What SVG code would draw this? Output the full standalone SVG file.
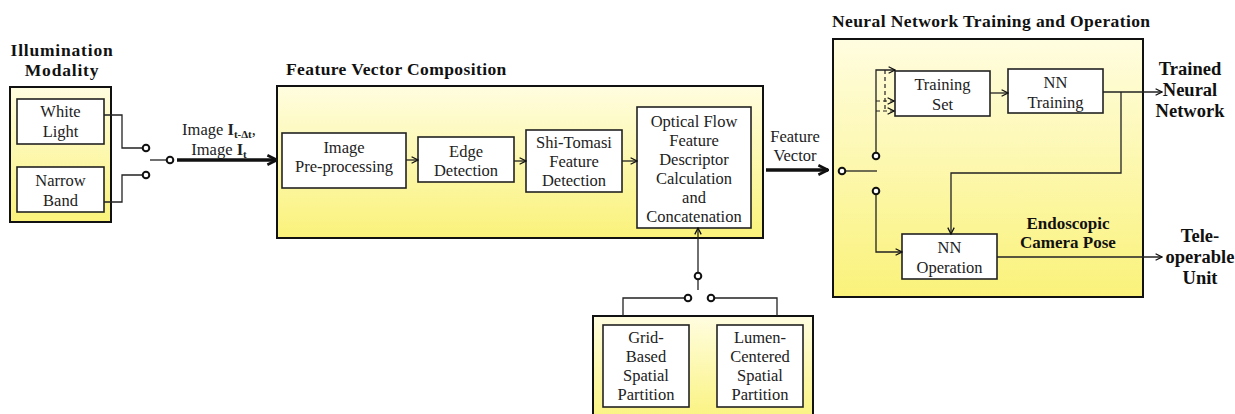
<svg xmlns="http://www.w3.org/2000/svg" width="1235" height="414" viewBox="0 0 1235 414">
  <defs>
    <linearGradient id="panelFill" x1="0" y1="0" x2="0" y2="1">
      <stop offset="0" stop-color="#fffde0"/>
      <stop offset="1" stop-color="#faf27a"/>
    </linearGradient>
    <marker id="openHead" viewBox="0 0 10 10" refX="9" refY="5" markerWidth="8" markerHeight="8" markerUnits="userSpaceOnUse" orient="auto">
      <path d="M1,1 L9,5 L1,9" fill="none" stroke="#111" stroke-width="1.6"/>
    </marker>
    <marker id="boldHead" viewBox="0 0 10 10" refX="9" refY="5" markerWidth="12" markerHeight="12" markerUnits="userSpaceOnUse" orient="auto">
      <path d="M1,1 L9,5 L1,9" fill="none" stroke="#111" stroke-width="2.2"/>
    </marker>
  </defs>
  <style>
    .panel { fill: url(#panelFill); stroke: #111; stroke-width: 2; }
    .box { fill: #fff; stroke: #222; stroke-width: 1.6; }
    .lbl { font-family: "Liberation Serif", "DejaVu Serif", serif; font-size: 16.5px; fill: #222; text-anchor: middle; }
    .ttl { font-family: "Liberation Serif", "DejaVu Serif", serif; font-size: 17.5px; font-weight: bold; letter-spacing: 0.4px; fill: #111; }
    .bold { font-family: "Liberation Serif", "DejaVu Serif", serif; font-size: 18.5px; font-weight: bold; fill: #111; text-anchor: middle; }
    .wire { fill: none; stroke: #222; stroke-width: 1.3; }
    .arr { fill: none; stroke: #222; stroke-width: 1.3; marker-end: url(#openHead); }
    .dash { fill: none; stroke: #222; stroke-width: 1.2; stroke-dasharray: 4 3; }
    .thick { fill: none; stroke: #111; stroke-width: 3.5; marker-end: url(#boldHead); }
    .pin { fill: #fff; stroke: #111; stroke-width: 2; }
  </style>

  <!-- Illumination modality -->
  <g id="illumination">
    <text class="ttl" x="62" y="56" style="text-anchor:middle; letter-spacing:0.8px">Illumination</text>
    <text class="ttl" x="62" y="76" style="text-anchor:middle; letter-spacing:0.8px">Modality</text>
    <rect class="panel" x="10" y="87" width="101" height="135"/>
  </g>
  <g id="white-light">
    <rect class="box" x="17" y="99" width="87" height="45"/>
    <text class="lbl" x="60.5" y="117">White</text>
    <text class="lbl" x="60.5" y="137">Light</text>
  </g>
  <g id="narrow-band">
    <rect class="box" x="17" y="167" width="87" height="45"/>
    <text class="lbl" x="60.5" y="186">Narrow</text>
    <text class="lbl" x="60.5" y="206">Band</text>
  </g>

  <!-- Feature vector composition -->
  <g id="feature-vector-composition">
    <text class="ttl" x="286" y="75">Feature Vector Composition</text>
    <rect class="panel" x="277" y="86" width="486" height="152"/>
  </g>
  <g id="preprocessing">
    <rect class="box" x="282" y="133" width="124" height="55"/>
    <text class="lbl" x="344" y="153">Image</text>
    <text class="lbl" x="344" y="172">Pre-processing</text>
  </g>
  <g id="edge-detection">
    <rect class="box" x="418" y="137" width="96" height="45"/>
    <text class="lbl" x="466" y="157">Edge</text>
    <text class="lbl" x="466" y="176">Detection</text>
  </g>
  <g id="shi-tomasi">
    <rect class="box" x="526" y="130" width="96" height="62"/>
    <text class="lbl" x="574" y="148">Shi-Tomasi</text>
    <text class="lbl" x="574" y="167">Feature</text>
    <text class="lbl" x="574" y="186">Detection</text>
  </g>
  <g id="optical-flow">
    <rect class="box" x="637" y="107" width="114" height="121"/>
    <text class="lbl" x="694" y="127">Optical Flow</text>
    <text class="lbl" x="694" y="146">Feature</text>
    <text class="lbl" x="694" y="165">Descriptor</text>
    <text class="lbl" x="694" y="184">Calculation</text>
    <text class="lbl" x="694" y="203">and</text>
    <text class="lbl" x="694" y="222">Concatenation</text>
  </g>

  <!-- Spatial partition options -->
  <g id="spatial-partition">
    <rect class="panel" x="593" y="316" width="220" height="110"/>
  </g>
  <g id="grid-based">
    <rect class="box" x="603" y="325" width="86" height="82"/>
    <text class="lbl" x="646" y="343">Grid-</text>
    <text class="lbl" x="646" y="362">Based</text>
    <text class="lbl" x="646" y="381">Spatial</text>
    <text class="lbl" x="646" y="400">Partition</text>
  </g>
  <g id="lumen-centered">
    <rect class="box" x="717" y="325" width="86" height="82"/>
    <text class="lbl" x="760" y="343">Lumen-</text>
    <text class="lbl" x="760" y="362">Centered</text>
    <text class="lbl" x="760" y="381">Spatial</text>
    <text class="lbl" x="760" y="400">Partition</text>
  </g>

  <!-- Neural network training and operation -->
  <g id="nn-panel">
    <text class="ttl" x="832" y="27">Neural Network Training and Operation</text>
    <rect class="panel" x="833" y="39" width="310" height="258"/>
  </g>
  <g id="training-set">
    <rect class="box" x="895" y="71" width="95" height="45"/>
    <text class="lbl" x="942.5" y="90">Training</text>
    <text class="lbl" x="942.5" y="110">Set</text>
  </g>
  <g id="nn-training">
    <rect class="box" x="1008" y="69" width="95" height="44"/>
    <text class="lbl" x="1055.5" y="88">NN</text>
    <text class="lbl" x="1055.5" y="108">Training</text>
  </g>
  <g id="nn-operation">
    <rect class="box" x="902" y="234" width="95" height="45"/>
    <text class="lbl" x="949.5" y="253">NN</text>
    <text class="lbl" x="949.5" y="273">Operation</text>
  </g>

  <!-- Free-standing labels -->
  <g id="labels">
    <text class="lbl" x="219" y="135">Image <tspan font-weight="bold">I</tspan><tspan font-weight="bold" font-size="11" dy="3">t-Δt</tspan><tspan dy="-3">,</tspan></text>
    <text class="lbl" x="219" y="155">Image <tspan font-weight="bold">I</tspan><tspan font-weight="bold" font-size="11" dy="3">t</tspan></text>
    <text class="lbl" x="795" y="142">Feature</text>
    <text class="lbl" x="795" y="161">Vector</text>
    <text class="bold" x="1190" y="75">Trained</text>
    <text class="bold" x="1190" y="96">Neural</text>
    <text class="bold" x="1190" y="117">Network</text>
    <text class="bold" x="1068" y="229" style="font-size:17px">Endoscopic</text>
    <text class="bold" x="1068" y="248" style="font-size:17px">Camera Pose</text>
    <text class="bold" x="1200" y="242">Tele-</text>
    <text class="bold" x="1200" y="263">operable</text>
    <text class="bold" x="1200" y="284">Unit</text>
  </g>

  <!-- Connectors and switches -->
  <g id="connectors">
    <!-- illumination selector -->
    <polyline class="wire" points="104,115 122,115 122,148 142,148"/>
    <polyline class="wire" points="104,202 122,202 122,175 142,175"/>
    <line class="wire" x1="150" y1="160" x2="166" y2="160"/>
    <circle class="pin" cx="146" cy="148" r="3.3"/>
    <circle class="pin" cx="146" cy="175" r="3.3"/>
    <circle class="pin" cx="170" cy="160" r="3.3"/>
    <line class="thick" x1="177" y1="160" x2="277" y2="160"/>

    <!-- processing chain -->
    <line class="arr" x1="406" y1="160" x2="418" y2="160"/>
    <line class="arr" x1="514" y1="161" x2="526" y2="161"/>
    <line class="arr" x1="622" y1="161" x2="637" y2="161"/>

    <!-- feature vector out -->
    <line class="thick" x1="766" y1="170" x2="828" y2="170"/>

    <!-- partition selector -->
    <line class="arr" x1="698" y1="272" x2="698" y2="228"/>
    <line class="wire" x1="698" y1="280" x2="698" y2="290"/>
    <circle class="pin" cx="698" cy="276" r="3.3"/>
    <polyline class="wire" points="684,298 623,298 623,316"/>
    <polyline class="wire" points="715,298 777,298 777,316"/>
    <circle class="pin" cx="688" cy="298" r="3.3"/>
    <circle class="pin" cx="711" cy="298" r="3.3"/>

    <!-- training / operation selector -->
    <line class="wire" x1="846" y1="171" x2="877" y2="171"/>
    <circle class="pin" cx="842" cy="171" r="3.3"/>
    <circle class="pin" cx="876" cy="156" r="3.3"/>
    <circle class="pin" cx="876" cy="191" r="3.3"/>
    <polyline class="arr" points="876,152 876,70 895,70"/>
    <line class="dash" x1="885" y1="70" x2="885" y2="111"/>
    <polyline class="dash" points="876,101 894,101" marker-end="url(#openHead)"/>
    <polyline class="dash" points="876,111 894,111" marker-end="url(#openHead)"/>
    <polyline class="arr" points="876,195 876,252 902,252"/>

    <line class="arr" x1="990" y1="93" x2="1008" y2="93"/>
    <line class="arr" x1="1103" y1="92" x2="1162" y2="92"/>
    <polyline class="arr" points="1121,92 1121,173 951,173 951,234"/>
    <line class="arr" x1="997" y1="257" x2="1162" y2="257"/>
  </g>
</svg>
